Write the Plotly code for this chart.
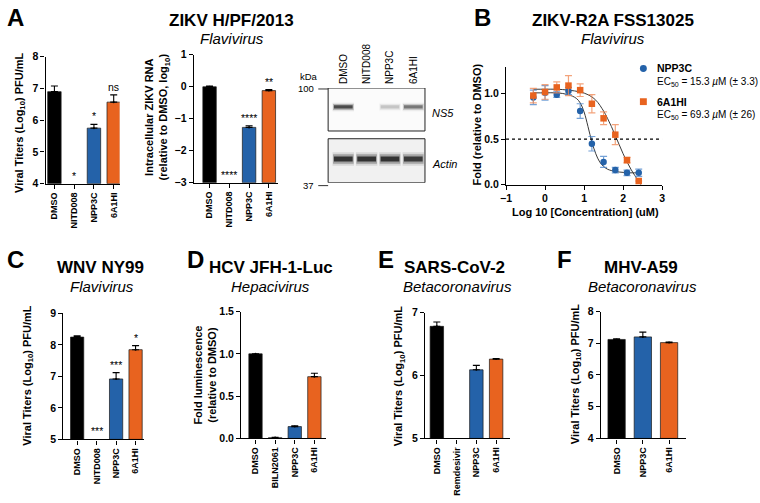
import plotly.graph_objects as go

W, H = 760, 503
FONT = "Liberation Sans, Arial, Helvetica, sans-serif"
BLUE = "#2462a9"
ORANGE = "#e8631f"
BLUE_ERR = "rgba(70,130,200,0.75)"
ORANGE_ERR = "rgba(240,140,90,0.8)"
DRUG_COLORS = {"DMSO": "#000000", "NPP3C": BLUE, "6A1HI": ORANGE}

# A (left): ZIKV H/PF/2013 viral titers, log10 PFU/mL
a1_drugs = ["DMSO", "NITD008", "NPP3C", "6A1HI"]
a1_titer = [6.9, None, 5.75, 6.57]
a1_err = [0.18, 0, 0.12, 0.23]
a1_sig = ["", "*", "*", "ns"]

# A (middle): intracellular ZIKV RNA, log10 relative to DMSO
a2_drugs = ["DMSO", "NITD008", "NPP3C", "6A1HI"]
a2_rna = [0.0, None, -1.27, -0.12]
a2_err = [0.02, 0, 0.05, 0.03]
a2_sig = ["", "****", "****", "**"]

# A (right): western blot band intensities
blot_lanes = ["DMSO", "NITD008", "NPP3C", "6A1HI"]
ns5_band = [0.8, 0.0, 0.2, 0.55]
actin_band = [0.95, 0.95, 0.95, 0.9]

# B: ZIKV-R2A FSS13025 dose response
b_log_conc = [-0.3, 0.0, 0.3, 0.6, 0.9, 1.2, 1.5, 1.8, 2.1, 2.4]
b_npp3c = [0.96, 1.01, 0.99, 1.03, 0.81, 0.45, 0.25, 0.16, 0.13, 0.13]
b_npp3c_err = [0.08, 0.08, 0.03, 0.04, 0.08, 0.08, 0.06, 0.03, 0.03, 0.04]
b_6a1hi = [0.98, 1.02, 1.07, 1.09, 1.04, 0.89, 0.73, 0.55, 0.27, 0.04]
b_6a1hi_err = [0.08, 0.08, 0.06, 0.11, 0.07, 0.1, 0.07, 0.11, 0.03, 0.0]
fit_npp3c_x = [-0.3, 0, 0.3, 0.6, 0.8, 0.9, 1.0, 1.1, 1.2, 1.3, 1.4, 1.5, 1.6, 1.8, 2.0, 2.2, 2.4]
fit_npp3c_y = [1.01, 1.01, 1.01, 0.99, 0.95, 0.9, 0.8, 0.64, 0.47, 0.34, 0.25, 0.2, 0.17, 0.145, 0.135, 0.13, 0.13]
fit_6a1hi_x = [-0.3, 0, 0.3, 0.6, 0.9, 1.1, 1.3, 1.5, 1.6, 1.7, 1.8, 1.9, 2.0, 2.1, 2.2, 2.3, 2.45]
fit_6a1hi_y = [1.05, 1.05, 1.05, 1.04, 1.02, 0.99, 0.93, 0.81, 0.73, 0.64, 0.54, 0.44, 0.34, 0.25, 0.17, 0.1, 0.0]

# C: WNV NY99
c_drugs = ["DMSO", "NITD008", "NPP3C", "6A1HI"]
c_titer = [8.25, None, 6.92, 7.85]
c_err = [0.04, 0, 0.2, 0.13]
c_sig = ["", "***", "***", "*"]

# D: HCV JFH-1-Luc
d_drugs = ["DMSO", "BILN2061", "NPP3C", "6A1HI"]
d_lum = [1.0, 0.01, 0.14, 0.73]
d_err = [0.0, 0.004, 0.01, 0.04]

# E: SARS-CoV-2
e_drugs = ["DMSO", "Remdesivir", "NPP3C", "6A1HI"]
e_titer = [6.78, None, 6.09, 6.26]
e_err = [0.07, 0, 0.07, 0.01]

# F: MHV-A59
f_drugs = ["DMSO", "NPP3C", "6A1HI"]
f_titer = [7.12, 7.2, 7.02]
f_err = [0.02, 0.15, 0.02]


def px_x(p):
    return p / W


def px_y(p):
    return 1 - p / H


fig = go.Figure()
annotations = []
shapes = []
layout = dict(
    width=W,
    height=H,
    margin=dict(l=0, r=0, t=0, b=0),
    paper_bgcolor="white",
    plot_bgcolor="white",
    showlegend=False,
    barmode="overlay",
    font=dict(family=FONT, color="black"),
)

axis_common = dict(
    showline=True,
    linecolor="black",
    linewidth=1.3,
    ticks="outside",
    ticklen=4,
    tickwidth=1.3,
    tickcolor="black",
    showgrid=False,
    zeroline=False,
    fixedrange=True,
    tickfont=dict(family=FONT, size=10.5, color="black", weight="bold"),
)


def text(t, x, y, size=10, xanchor="center", bold=False, italic=False, angle=0):
    style = dict(family=FONT, size=size, color="black")
    if bold:
        style["weight"] = "bold"
    if italic:
        style["style"] = "italic"
    annotations.append(dict(text=t, x=px_x(x), y=px_y(y), xref="paper", yref="paper", showarrow=False,
                            xanchor=xanchor, yanchor="middle", font=style, textangle=angle))


def bar_panel(n, cats, vals, errs, sig, xdom, ydom, xrange, yrange, ytickvals, yfmt=None, width=0.68):
    xa, ya = f"x{n}", f"y{n}"
    base = yrange[0]
    colors = [DRUG_COLORS.get(c, "white") for c in cats]
    heights = [None if v is None else v - base for v in vals]
    fig.add_trace(go.Bar(
        x=cats, y=heights, base=base, width=width,
        marker=dict(color=colors, line=dict(color="#1a1a1a", width=0.7)),
        xaxis=xa, yaxis=ya,
    ))
    fig.add_trace(go.Scatter(
        x=cats, y=vals, mode="markers", marker=dict(size=2, color="black"),
        error_y=dict(type="data", array=errs, arrayminus=[0] * len(errs), symmetric=False,
                     color="black", thickness=1.1, width=3.5),
        xaxis=xa, yaxis=ya, cliponaxis=False,
    ))
    layout[f"xaxis{n}"] = dict(axis_common, domain=[px_x(xdom[0]), px_x(xdom[1])], range=xrange,
                               anchor=ya, type="category", tickangle=-90,
                               tickfont=dict(family=FONT, size=9, color="black", weight="bold"))
    layout[f"yaxis{n}"] = dict(axis_common, domain=[px_y(ydom[1]), px_y(ydom[0])], range=yrange,
                               anchor=xa, tickvals=ytickvals)
    if yfmt:
        layout[f"yaxis{n}"]["tickformat"] = yfmt
    for c, v, e, s in zip(cats, vals, errs, sig):
        if s:
            annotations.append(dict(x=c, y=base if v is None else v + e, xref=xa, yref=ya, text=s,
                                    showarrow=False, yanchor="bottom",
                                    font=dict(family=FONT, size=10.5, color="black")))


# --- A ---
bar_panel(1, a1_drugs, a1_titer, a1_err, a1_sig, (40, 115), (52, 182), [-0.45, 3.3], [4, 8], [4, 5, 6, 7, 8])
bar_panel(2, a2_drugs, a2_rna, a2_err, a2_sig, (190, 275), (50, 181), [-0.8, 3.45], [-3, 1], [-3, -2, -1, 0, 1])
text("<b>Viral Titers (Log<sub>10</sub>) PFU/mL</b>", 14, 120, size=11, angle=-90)
text("<b>Intracellular ZIKV RNA<br>(relative to DMSO, log<sub>10</sub>)</b>", 153, 114, size=11, angle=-90)
text("A", 10, 12, size=24, bold=True)
text("ZIKV H/PF/2013", 228, 15, size=17, bold=True)
text("Flavivirus", 229, 33, size=15, italic=True)

# western blot
layout["xaxis3"] = dict(domain=[px_x(326), px_x(424)], range=[-0.65, 3.5], anchor="y3", type="category",
                        side="top", showline=False, showgrid=False, zeroline=False, ticks="", fixedrange=True,
                        tickangle=-90, ticklabelstandoff=3, tickfont=dict(family=FONT, size=10, color="black"))
layout["yaxis3"] = dict(domain=[px_y(181), px_y(84)], range=[0, 1], anchor="x3", visible=False, fixedrange=True)
for y0, y1, fill in [(0.546, 1.0, "#fbfbfb"), (0.0, 0.464, "#f1f1f1")]:
    shapes.append(dict(type="rect", xref="x3 domain", yref="y3", x0=0, x1=1, y0=y0, y1=y1,
                       line=dict(color="#222", width=1), fillcolor=fill, layer="below"))
for band, ymid, thick in [(ns5_band, 0.80, 0.035), (actin_band, 0.25, 0.055)]:
    for scale, alpha, wid in [(2.6, 0.12, 0.92), (1.8, 0.3, 0.88), (1.0, 0.85, 0.8)]:
        colors = [f"rgba(25,25,25,{alpha * b:.3f})" for b in band]
        fig.add_trace(go.Bar(x=blot_lanes, y=[thick * scale] * 4, base=ymid - thick * scale / 2, width=wid,
                             marker=dict(color=colors, line=dict(width=0)), xaxis="x3", yaxis="y3"))
text("kDa", 307, 72, size=9.5)
text("100", 314, 85, size=9.5, xanchor="right")
text("37", 314, 184, size=9.5, xanchor="right")
for yy in (85, 184):
    shapes.append(dict(type="line", xref="paper", yref="paper", x0=px_x(316), x1=px_x(326),
                       y0=px_y(yy), y1=px_y(yy), line=dict(color="#333", width=1)))
text("NS5", 429, 110, size=11, xanchor="left", italic=True)
text("Actin", 429, 162, size=11, xanchor="left", italic=True)

# --- B ---
fig.add_trace(go.Scatter(x=fit_npp3c_x, y=fit_npp3c_y, mode="lines",
                         line=dict(color="#3a3a3a", width=1, shape="spline"), xaxis="x4", yaxis="y4"))
fig.add_trace(go.Scatter(x=fit_6a1hi_x, y=fit_6a1hi_y, mode="lines",
                         line=dict(color="#3a3a3a", width=1, shape="spline"), xaxis="x4", yaxis="y4"))
fig.add_trace(go.Scatter(x=b_log_conc, y=b_npp3c, mode="markers", cliponaxis=False,
                         marker=dict(symbol="circle", size=6.5, color=BLUE),
                         error_y=dict(type="data", array=b_npp3c_err, color=BLUE_ERR, thickness=1.2, width=3.5),
                         xaxis="x4", yaxis="y4"))
fig.add_trace(go.Scatter(x=b_log_conc, y=b_6a1hi, mode="markers", cliponaxis=False,
                         marker=dict(symbol="square", size=6.5, color=ORANGE),
                         error_y=dict(type="data", array=b_6a1hi_err, color=ORANGE_ERR, thickness=1.2, width=3.5),
                         xaxis="x4", yaxis="y4"))
layout["xaxis4"] = dict(axis_common, domain=[px_x(506), px_x(664)], range=[-1, 3], dtick=1, anchor="y4")
layout["yaxis4"] = dict(axis_common, domain=[px_y(183), px_y(62)], range=[0, 1.3],
                        tickvals=[0, 0.5, 1.0], tickformat=".1f", anchor="x4")
shapes.append(dict(type="line", xref="x4", yref="y4", x0=-1, x1=3, y0=0.5, y1=0.5,
                   line=dict(color="black", width=1.3, dash="dot")))
text("<b>Fold (relative to DMSO)</b>", 477, 121, size=11, angle=-90)
text("<b>Log 10 [Concentration] (uM)</b>", 586, 211, size=11)
text("B", 482, 12, size=24, bold=True)
text("ZIKV-R2A FSS13025", 614, 15, size=17, bold=True)
text("Flavivirus", 614, 33, size=15, italic=True)
shapes.append(dict(type="circle", xref="paper", yref="paper", x0=px_x(641.5), x1=px_x(648.5),
                   y0=px_y(67.5), y1=px_y(60.5), fillcolor=BLUE, line=dict(width=0)))
shapes.append(dict(type="rect", xref="paper", yref="paper", x0=px_x(641.5), x1=px_x(648.5),
                   y0=px_y(101.5), y1=px_y(94.5), fillcolor=ORANGE, line=dict(width=0)))
text("<b>NPP3C</b>", 657, 64, size=10.5, xanchor="left")
text("EC<sub>50</sub> = 15.3 <i>µ</i>M (± 3.3)", 657, 78, size=10, xanchor="left")
text("<b>6A1HI</b>", 657, 98, size=10.5, xanchor="left")
text("EC<sub>50</sub> = 69.3 <i>µ</i>M (± 26)", 657, 112, size=10, xanchor="left")

# --- C ---
bar_panel(5, c_drugs, c_titer, c_err, c_sig, (58, 140), (315, 444), [-0.71, 3.45], [5, 9], [5, 6, 7, 8, 9])
text("<b>Viral Titers (Log<sub>10</sub>) PFU/mL</b>", 22, 379, size=11, angle=-90)
text("C", 10, 260, size=24, bold=True)
text("WNV NY99", 96, 268, size=17, bold=True)
text("Flavivirus", 97, 287, size=15, italic=True)

# --- D ---
bar_panel(6, d_drugs, d_lum, d_err, [""] * 4, (238, 324), (313, 443), [-0.73, 3.6], [0, 1.5],
          [0, 0.5, 1.0, 1.5], yfmt=".1f")
text("<b>Fold luminescence<br>(relative to DMSO)</b>", 201, 378, size=11, angle=-90)
text("D", 192, 260, size=24, bold=True)
text("HCV JFH-1-Luc", 268, 268, size=17, bold=True)
text("Hepacivirus", 268, 287, size=15, italic=True)

# --- E ---
bar_panel(7, e_drugs, e_titer, e_err, [""] * 4, (424, 510), (314, 443), [-0.6, 3.7], [5, 7], [5, 6, 7])
text("<b>Viral Titers (Log<sub>10</sub>) PFU/mL</b>", 398, 379, size=11, angle=-90)
text("E", 385, 260, size=24, bold=True)
text("SARS-CoV-2", 454, 268, size=17, bold=True)
text("Betacoronavirus", 457, 287, size=15, italic=True)

# --- F ---
bar_panel(8, f_drugs, f_titer, f_err, [""] * 3, (602, 688), (313, 443), [-0.6, 2.64], [4, 8], [4, 5, 6, 7, 8],
          width=0.66)
text("<b>Viral Titers (Log<sub>10</sub>) PFU/mL</b>", 577, 377, size=11, angle=-90)
text("F", 565, 260, size=24, bold=True)
text("MHV-A59", 643, 268, size=17, bold=True)
text("Betacoronavirus", 644, 287, size=15, italic=True)

layout["annotations"] = annotations
layout["shapes"] = shapes
fig.update_layout(**layout)
# the page body has a default 8px margin; drop it so the figure sits at the top-left corner
fig.write_html("out.html", config={"displayModeBar": False},
               post_script="document.body.style.margin = '0px';")
